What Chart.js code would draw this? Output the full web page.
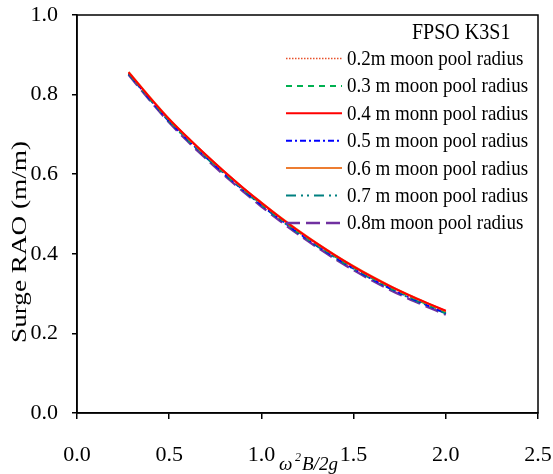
<!DOCTYPE html>
<html>
<head>
<meta charset="utf-8">
<script src="https://cdn.jsdelivr.net/npm/chart.js@4.4.0/dist/chart.umd.min.js"></script>
<style>
	body { margin: 0; background: #fff; }
	#wrap { width: 553px; height: 474px; }
</style>
</head>
<body>
<div id="wrap"><canvas id="myChart" width="553" height="474"></canvas></div>
<script>
	// frequency axis (omega^2 B / 2g)
	var freq = [0.28, 0.4, 0.5, 0.6, 0.7, 0.8, 0.9, 1.0, 1.1, 1.2, 1.3, 1.4, 1.5, 1.6, 1.7, 1.8, 1.9, 2.0];

	// surge RAO for each moon pool radius
	var r02 = [0.855, 0.789, 0.737, 0.690, 0.646, 0.604, 0.564, 0.526, 0.490, 0.456, 0.424, 0.394, 0.366, 0.340, 0.316, 0.294, 0.274, 0.255];
	var r03 = [0.854, 0.788, 0.735, 0.689, 0.645, 0.603, 0.563, 0.525, 0.489, 0.455, 0.423, 0.393, 0.365, 0.339, 0.315, 0.293, 0.273, 0.253];
	var r04 = [0.856, 0.790, 0.738, 0.692, 0.648, 0.606, 0.566, 0.528, 0.492, 0.458, 0.426, 0.396, 0.368, 0.342, 0.318, 0.296, 0.276, 0.257];
	var r05 = [0.853, 0.786, 0.733, 0.687, 0.643, 0.601, 0.561, 0.523, 0.487, 0.453, 0.421, 0.391, 0.363, 0.337, 0.313, 0.291, 0.271, 0.251];
	var r06 = [0.857, 0.791, 0.739, 0.692, 0.648, 0.606, 0.566, 0.529, 0.493, 0.459, 0.427, 0.397, 0.369, 0.343, 0.319, 0.297, 0.276, 0.256];
	var r07 = [0.852, 0.785, 0.732, 0.686, 0.642, 0.600, 0.560, 0.522, 0.486, 0.452, 0.420, 0.390, 0.362, 0.336, 0.312, 0.290, 0.270, 0.250];
	var r08 = [0.850, 0.783, 0.730, 0.683, 0.639, 0.597, 0.557, 0.519, 0.483, 0.449, 0.417, 0.387, 0.359, 0.333, 0.309, 0.287, 0.267, 0.247];

	var labels = ['0.2m moon pool radius', '0.3 m moon pool radius', '0.4 m monn pool radius',
			'0.5 m moon pool radius', '0.6 m moon pool radius', '0.7 m moon pool radius',
			'0.8m moon pool radius'];
	var legendTitle = 'FPSO K3S1';
	var xTitle = 'B/2g';
	var yTitle = 'Surge RAO (m/m)';

	var serif = "'Liberation Serif', 'Times New Roman', serif";

	function pts(arr) {
		var out = [];
		for (var i = 0; i < freq.length; i++) {
			out.push({ x : freq[i], y : arr[i] });
		}
		return out;
	}

	function ds(i, arr, color, dash, width, order) {
		return {
			label : labels[i],
			data : pts(arr),
			borderColor : color,
			backgroundColor : color,
			borderDash : dash,
			borderWidth : width,
			pointRadius : 0,
			tension : 0.3,
			fill : false,
			order : order
		};
	}

	// frame, titles and the legend inside the plot
	var extras = {
		id : 'extras',
		afterDraw : function(chart) {
			var c = chart.ctx;
			var a = chart.chartArea;
			c.save();
			c.strokeStyle = '#000';
			c.lineWidth = 1.5;
			c.strokeRect(a.left, a.top, a.right - a.left, a.bottom - a.top);

			// y title (stretched along its length like the original)
			c.fillStyle = '#000';
			c.font = '20px ' + serif;
			c.textAlign = 'center';
			c.textBaseline = 'middle';
			c.save();
			c.translate(21, 242);
			c.rotate(-Math.PI / 2);
			c.scale(1.36, 1);
			c.fillText(yTitle, 0, 0);
			c.restore();

			// x title: omega^2 B/2g
			c.font = 'italic 19px ' + serif;
			c.textAlign = 'left';
			c.textBaseline = 'alphabetic';
			c.fillText('\u03c9', 279, 470);
			c.font = 'italic 12px ' + serif;
			c.fillText('2', 295, 461);
			c.font = 'italic 19px ' + serif;
			c.fillText(xTitle, 302, 470);

			// legend
			c.textBaseline = 'middle';
			c.font = '20px ' + serif;
			c.save();
			c.translate(412, 33);
			c.scale(1, 1.12);
			c.fillText(legendTitle, 0, 0);
			c.restore();
			c.font = '19px ' + serif;
			var sets = chart.data.datasets;
			for (var i = 0; i < sets.length; i++) {
				var y = 58.5 + i * 27.4;
				c.strokeStyle = sets[i].borderColor;
				c.lineWidth = sets[i].borderWidth;
				c.setLineDash(sets[i].borderDash);
				c.beginPath();
				c.moveTo(286, y);
				c.lineTo(342, y);
				c.stroke();
				c.setLineDash([]);
				c.fillStyle = '#000';
				c.save();
				c.translate(347, y + 1);
				c.scale(1, 1.12);
				c.fillText(sets[i].label, 0, 0);
				c.restore();
			}
			c.restore();
		}
	};

	window.onload = function() {
		var ctx = document.getElementById('myChart');

		var config = {
			type : 'line',
			data : {
				datasets : [
					ds(0, r02, '#e8502a', [1.5, 1.5], 1.5, 3),
					ds(1, r03, '#00b050', [6, 5], 2, 4),
					ds(2, r04, '#ff0000', [], 2, 1),
					ds(3, r05, '#0000ff', [6, 3, 2, 3], 2, 5),
					ds(4, r06, '#ed7d31', [], 2, 2),
					ds(5, r07, '#008080', [10, 5, 2, 4, 2, 5], 2, 6),
					ds(6, r08, '#7030a0', [14, 6], 2.5, 7)
				]
			},
			options : {
				responsive : false,
				animation : false,
				layout : {
					padding : { left : 0, right : 15, top : 15, bottom : 0 }
				},
				plugins : {
					legend : { display : false },
					tooltip : { enabled : false }
				},
				scales : {
					x : {
						type : 'linear',
						min : 0,
						max : 2.5,
						afterFit : function(s) {
							s.height = 61;
							s.paddingLeft = 0;
							s.paddingRight = 0;
						},
						border : { display : true, color : '#000', width : 1.5 },
						grid : { display : true, drawOnChartArea : false, drawTicks : true, tickLength : 6, color : '#000', lineWidth : 1.5 },
						ticks : {
							stepSize : 0.5,
							padding : 23,
							color : '#000',
							font : { family : serif, size : 22 },
							maxRotation : 0,
							callback : function(v) { return v.toFixed(1); }
						}
					},
					y : {
						min : 0,
						max : 1,
						afterFit : function(s) {
							s.width = 77;
							s.paddingTop = 0;
							s.paddingBottom = 0;
						},
						border : { display : true, color : '#000', width : 1.5 },
						grid : { display : true, drawOnChartArea : false, drawTicks : true, tickLength : 5, color : '#000', lineWidth : 1.5 },
						ticks : {
							stepSize : 0.2,
							padding : 14,
							color : '#000',
							font : { family : serif, size : 22 },
							callback : function(v) { return v.toFixed(1); }
						}
					}
				}
			},
			plugins : [ extras ]
		};

		var myChart = new Chart(ctx, config);
	};
</script>
</body>
</html>
